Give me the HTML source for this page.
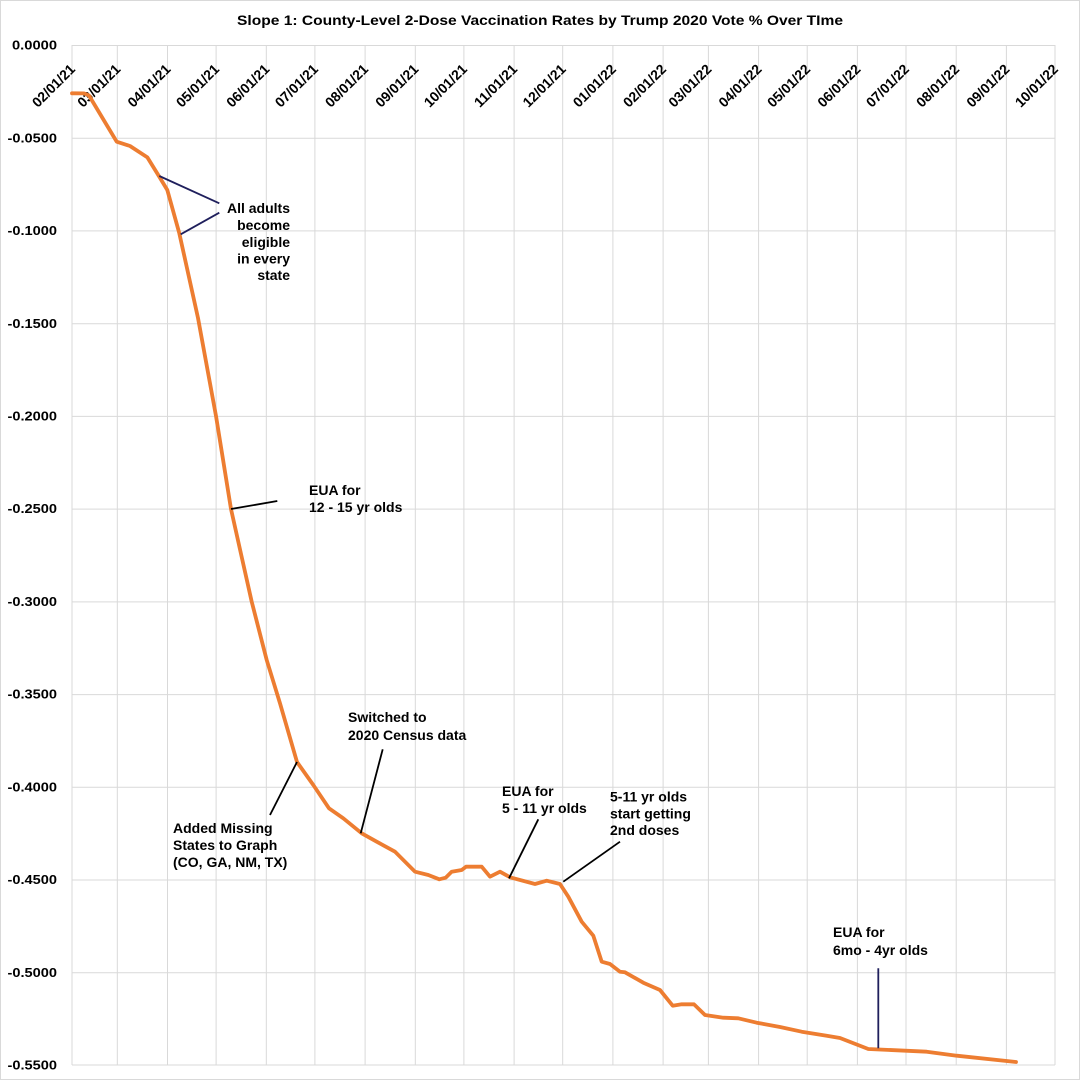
<!DOCTYPE html>
<html>
<head>
<meta charset="utf-8">
<style>
  html, body { margin: 0; padding: 0; background: #ffffff; }
  svg { display: block; }
  text { font-family: "Liberation Sans", "DejaVu Sans", sans-serif; font-weight: bold; fill: #000; }
</style>
</head>
<body>
<svg width="1081" height="1081" viewBox="0 0 1081 1081" xmlns="http://www.w3.org/2000/svg">
  <rect x="0" y="0" width="1081" height="1081" fill="#ffffff"/>
  <rect x="0.5" y="0.5" width="1079" height="1079" fill="none" stroke="#d9d9d9" stroke-width="1"/>

  <!-- Title -->
  <text x="237" y="25" font-size="14" textLength="606" lengthAdjust="spacingAndGlyphs">Slope 1: County-Level 2-Dose Vaccination Rates by Trump 2020 Vote % Over TIme</text>

  <!-- Horizontal gridlines -->
  <g stroke="#d9d9d9" stroke-width="1">
    <line x1="72" y1="45.5" x2="1055" y2="45.5"/>
    <line x1="72" y1="138.2" x2="1055" y2="138.2"/>
    <line x1="72" y1="230.9" x2="1055" y2="230.9"/>
    <line x1="72" y1="323.7" x2="1055" y2="323.7"/>
    <line x1="72" y1="416.4" x2="1055" y2="416.4"/>
    <line x1="72" y1="509.1" x2="1055" y2="509.1"/>
    <line x1="72" y1="601.9" x2="1055" y2="601.9"/>
    <line x1="72" y1="694.6" x2="1055" y2="694.6"/>
    <line x1="72" y1="787.3" x2="1055" y2="787.3"/>
    <line x1="72" y1="880.0" x2="1055" y2="880.0"/>
    <line x1="72" y1="972.8" x2="1055" y2="972.8"/>
    <line x1="72" y1="1065" x2="1055" y2="1065"/>
  </g>

  <!-- Vertical gridlines -->
  <g stroke="#d9d9d9" stroke-width="1">
    <line x1="72" y1="45" x2="72" y2="1065"/>
    <line x1="117.3" y1="45" x2="117.3" y2="1065"/>
    <line x1="167.5" y1="45" x2="167.5" y2="1065"/>
    <line x1="216.1" y1="45" x2="216.1" y2="1065"/>
    <line x1="266.3" y1="45" x2="266.3" y2="1065"/>
    <line x1="314.9" y1="45" x2="314.9" y2="1065"/>
    <line x1="365.1" y1="45" x2="365.1" y2="1065"/>
    <line x1="415.3" y1="45" x2="415.3" y2="1065"/>
    <line x1="463.9" y1="45" x2="463.9" y2="1065"/>
    <line x1="514.1" y1="45" x2="514.1" y2="1065"/>
    <line x1="562.7" y1="45" x2="562.7" y2="1065"/>
    <line x1="612.9" y1="45" x2="612.9" y2="1065"/>
    <line x1="663.1" y1="45" x2="663.1" y2="1065"/>
    <line x1="708.4" y1="45" x2="708.4" y2="1065"/>
    <line x1="758.6" y1="45" x2="758.6" y2="1065"/>
    <line x1="807.2" y1="45" x2="807.2" y2="1065"/>
    <line x1="857.4" y1="45" x2="857.4" y2="1065"/>
    <line x1="906.0" y1="45" x2="906.0" y2="1065"/>
    <line x1="956.2" y1="45" x2="956.2" y2="1065"/>
    <line x1="1006.4" y1="45" x2="1006.4" y2="1065"/>
    <line x1="1055" y1="45" x2="1055" y2="1065"/>
  </g>

  <!-- Y axis labels -->
  <g font-size="13" text-anchor="end">
    <text x="57" y="49.5" textLength="45" lengthAdjust="spacingAndGlyphs">0.0000</text>
    <text x="57" y="142.5" textLength="49.5" lengthAdjust="spacingAndGlyphs">-0.0500</text>
    <text x="57" y="235" textLength="49.5" lengthAdjust="spacingAndGlyphs">-0.1000</text>
    <text x="57" y="328" textLength="49.5" lengthAdjust="spacingAndGlyphs">-0.1500</text>
    <text x="57" y="420.5" textLength="49.5" lengthAdjust="spacingAndGlyphs">-0.2000</text>
    <text x="57" y="513" textLength="49.5" lengthAdjust="spacingAndGlyphs">-0.2500</text>
    <text x="57" y="606" textLength="49.5" lengthAdjust="spacingAndGlyphs">-0.3000</text>
    <text x="57" y="698.5" textLength="49.5" lengthAdjust="spacingAndGlyphs">-0.3500</text>
    <text x="57" y="791.5" textLength="49.5" lengthAdjust="spacingAndGlyphs">-0.4000</text>
    <text x="57" y="884" textLength="49.5" lengthAdjust="spacingAndGlyphs">-0.4500</text>
    <text x="57" y="977" textLength="49.5" lengthAdjust="spacingAndGlyphs">-0.5000</text>
    <text x="57" y="1069.5" textLength="49.5" lengthAdjust="spacingAndGlyphs">-0.5500</text>
  </g>

  <!-- X axis labels (rotated) -->
  <g font-size="14" text-anchor="end">
    <text transform="translate(76,70) rotate(-45)" textLength="54" lengthAdjust="spacingAndGlyphs">02/01/21</text>
    <text transform="translate(121.3,70) rotate(-45)" textLength="54" lengthAdjust="spacingAndGlyphs">03/01/21</text>
    <text transform="translate(171.5,70) rotate(-45)" textLength="54" lengthAdjust="spacingAndGlyphs">04/01/21</text>
    <text transform="translate(220.1,70) rotate(-45)" textLength="54" lengthAdjust="spacingAndGlyphs">05/01/21</text>
    <text transform="translate(270.3,70) rotate(-45)" textLength="54" lengthAdjust="spacingAndGlyphs">06/01/21</text>
    <text transform="translate(318.9,70) rotate(-45)" textLength="54" lengthAdjust="spacingAndGlyphs">07/01/21</text>
    <text transform="translate(369.1,70) rotate(-45)" textLength="54" lengthAdjust="spacingAndGlyphs">08/01/21</text>
    <text transform="translate(419.3,70) rotate(-45)" textLength="54" lengthAdjust="spacingAndGlyphs">09/01/21</text>
    <text transform="translate(467.9,70) rotate(-45)" textLength="54" lengthAdjust="spacingAndGlyphs">10/01/21</text>
    <text transform="translate(518.1,70) rotate(-45)" textLength="54" lengthAdjust="spacingAndGlyphs">11/01/21</text>
    <text transform="translate(566.7,70) rotate(-45)" textLength="54" lengthAdjust="spacingAndGlyphs">12/01/21</text>
    <text transform="translate(616.9,70) rotate(-45)" textLength="54" lengthAdjust="spacingAndGlyphs">01/01/22</text>
    <text transform="translate(667.1,70) rotate(-45)" textLength="54" lengthAdjust="spacingAndGlyphs">02/01/22</text>
    <text transform="translate(712.4,70) rotate(-45)" textLength="54" lengthAdjust="spacingAndGlyphs">03/01/22</text>
    <text transform="translate(762.6,70) rotate(-45)" textLength="54" lengthAdjust="spacingAndGlyphs">04/01/22</text>
    <text transform="translate(811.2,70) rotate(-45)" textLength="54" lengthAdjust="spacingAndGlyphs">05/01/22</text>
    <text transform="translate(861.4,70) rotate(-45)" textLength="54" lengthAdjust="spacingAndGlyphs">06/01/22</text>
    <text transform="translate(910.0,70) rotate(-45)" textLength="54" lengthAdjust="spacingAndGlyphs">07/01/22</text>
    <text transform="translate(960.2,70) rotate(-45)" textLength="54" lengthAdjust="spacingAndGlyphs">08/01/22</text>
    <text transform="translate(1010.4,70) rotate(-45)" textLength="54" lengthAdjust="spacingAndGlyphs">09/01/22</text>
    <text transform="translate(1059,70) rotate(-45)" textLength="54" lengthAdjust="spacingAndGlyphs">10/01/22</text>
  </g>

  <!-- Data line -->
  <polyline fill="none" stroke="#ED7D31" stroke-width="3.8" stroke-linejoin="round" stroke-linecap="round"
    points="72,93.3 84,93.4 89,95.5 116.7,141.7 130,146 147.3,157.3 159.3,176.7 167.3,190 179.3,233.3 198,318 216,416 231,509 241.7,557 251.7,601.7 266.7,660 280,703.3 297,762 313.3,785 329,808.3 343.3,818.3 361.7,833.3 376.7,841.7 395,851.7 415,871.7 428.3,875 439.3,879.3 445.7,877.7 451.7,871.7 461.7,870 466,866.7 481.7,866.7 490,876.7 500,871.7 510,877.3 535,884 546.7,880.7 560,884 568.3,896.7 581.7,921.7 593.3,935.7 601.7,961.7 610,964 620,971.7 625,972.3 643.3,982.7 660,990 672.7,1005.7 681.7,1004.3 694,1004.3 705,1015 723.3,1017.7 738.3,1018.3 756.7,1022.7 780,1027 801.7,1031.7 826.7,1035.7 840,1038 868.3,1049 926.7,1051.7 956.7,1055.7 1016,1062"/>

  <!-- Annotation lines -->
  <g stroke="#1f1f5c" stroke-width="1.8">
    <line x1="219.3" y1="203.3" x2="159.3" y2="176"/>
    <line x1="219.3" y1="212.7" x2="180.7" y2="234.3"/>
    <line x1="878.3" y1="968.3" x2="878.3" y2="1048.3"/>
  </g>
  <g stroke="#000000" stroke-width="1.8">
    <line x1="277.3" y1="501" x2="231" y2="509"/>
    <line x1="270" y1="815" x2="297" y2="762"/>
    <line x1="382.7" y1="749.3" x2="360.7" y2="833.3"/>
    <line x1="538.3" y1="819.3" x2="509" y2="878.3"/>
    <line x1="620" y1="841.7" x2="563.3" y2="881.7"/>
  </g>

  <!-- Annotation texts -->
  <g font-size="14">
    <g text-anchor="end">
      <text x="290" y="213">All adults</text>
      <text x="290" y="230">become</text>
      <text x="290" y="247">eligible</text>
      <text x="290" y="263.5">in every</text>
      <text x="290" y="280">state</text>
    </g>
    <text x="309" y="495">EUA for</text>
    <text x="309" y="512">12 - 15 yr olds</text>

    <text x="348" y="722">Switched to</text>
    <text x="348" y="740">2020 Census data</text>

    <text x="173" y="833">Added Missing</text>
    <text x="173" y="850">States to Graph</text>
    <text x="173" y="867">(CO, GA, NM, TX)</text>

    <text x="502" y="796">EUA for</text>
    <text x="502" y="813">5 - 11 yr olds</text>

    <text x="610" y="801.7">5-11 yr olds</text>
    <text x="610" y="818.3">start getting</text>
    <text x="610" y="835">2nd doses</text>

    <text x="833" y="937">EUA for</text>
    <text x="833" y="955">6mo - 4yr olds</text>
  </g>
</svg>
</body>
</html>
